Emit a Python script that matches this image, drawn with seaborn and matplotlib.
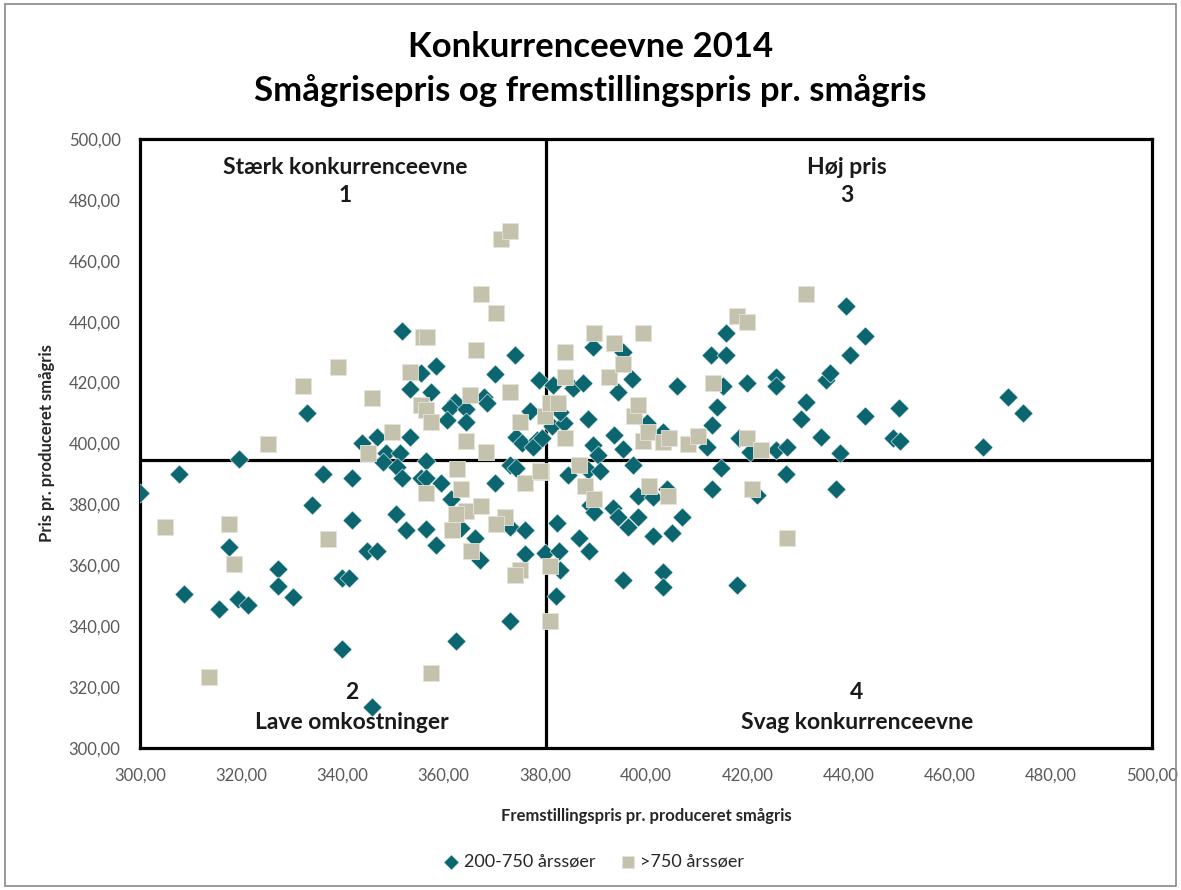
#!/usr/bin/env python3
import matplotlib
matplotlib.use("Agg")
import matplotlib.pyplot as plt
import pandas as pd
import seaborn as sns
from matplotlib.patches import Rectangle
from matplotlib.ticker import FuncFormatter, MultipleLocator

# fremstillingspris (x) og smågrisepris (y), 200-750 årssøer
small_x = [
    300.0, 307.8, 308.8, 315.6, 317.6, 319.5, 319.4, 321.4, 327.3, 327.3,
    330.2, 333.1, 334.0, 336.1, 340.0, 340.0, 341.3, 342.0, 342.0, 343.8,
    344.8, 346.8, 345.9, 346.8, 348.7, 351.4, 348.1, 350.7, 351.7, 350.6,
    352.6, 351.7, 353.4, 353.3, 355.6, 358.5, 357.5, 356.5, 355.6, 356.6,
    359.5, 361.4, 356.5, 358.5, 362.5, 362.3, 361.3, 360.6, 364.4, 364.4,
    363.5, 366.3, 367.2, 368.0, 368.5, 370.2, 370.2, 374.1, 373.1, 376.1,
    376.1, 380.0, 373.1, 373.1, 374.4, 377.1, 378.9, 381.7, 374.4, 375.4,
    378.4, 377.7, 379.4, 381.4, 383.7, 383.0, 382.5, 382.3, 383.1, 382.9,
    384.6, 385.6, 387.6, 386.8, 388.6, 388.6, 388.9, 389.7, 388.8, 389.6,
    389.6, 390.6, 390.9, 393.7, 393.5, 394.5, 394.5, 395.5, 395.5, 395.5,
    396.5, 397.3, 397.5, 398.5, 398.5, 400.1, 401.3, 401.3, 403.3, 403.3,
    403.3, 405.2, 406.2, 407.2, 404.1, 412.0, 413.0, 412.9, 415.9, 415.9,
    414.1, 413.1, 415.3, 414.9, 417.9, 418.3, 419.9, 420.6, 421.9, 425.7,
    425.7, 425.7, 427.8, 427.7, 430.6, 431.6, 434.5, 435.5, 436.4, 437.5,
    438.4, 439.5, 440.4, 443.3, 443.3, 448.9, 450.2, 450.0, 466.6, 471.5,
    474.4,
]
small_y = [
    383.6, 389.9, 350.6, 345.6, 365.9, 394.9, 348.9, 346.8, 358.8, 353.3,
    349.7, 410.0, 379.8, 389.9, 332.5, 355.7, 355.7, 388.6, 374.9, 400.1,
    364.8, 364.8, 313.4, 402.1, 396.8, 396.8, 394.0, 392.4, 388.7, 377.0,
    371.6, 437.0, 402.0, 418.0, 423.1, 425.3, 417.0, 394.4, 388.6, 388.6,
    387.0, 381.7, 371.8, 366.7, 335.0, 413.7, 411.6, 407.8, 411.3, 406.9,
    372.2, 369.1, 361.7, 415.4, 413.2, 422.9, 387.0, 429.1, 372.5, 371.6,
    363.7, 363.9, 341.6, 392.9, 391.9, 410.6, 420.9, 419.2, 402.2, 400.1,
    401.1, 399.0, 401.7, 405.6, 406.7, 410.5, 373.8, 349.9, 358.5, 364.8,
    389.7, 418.2, 420.0, 368.9, 408.0, 391.3, 379.8, 377.6, 364.8, 431.8,
    399.5, 396.2, 390.8, 402.8, 378.8, 376.0, 417.0, 430.2, 398.1, 355.0,
    372.7, 421.1, 393.0, 376.0, 382.6, 406.7, 382.3, 369.6, 403.9, 357.9,
    352.8, 370.7, 418.9, 376.0, 385.0, 399.0, 385.0, 429.1, 429.1, 436.2,
    411.9, 406.1, 418.9, 391.9, 353.5, 401.7, 420.0, 397.3, 383.1, 421.9,
    418.9, 397.9, 399.0, 390.0, 408.0, 413.7, 402.0, 420.9, 423.0, 385.0,
    397.0, 445.3, 429.1, 435.3, 409.0, 401.7, 400.9, 411.5, 399.0, 415.2,
    410.0,
]

# >750 årssøer
large_x = [
    304.9, 313.7, 317.6, 318.6, 325.4, 332.3, 337.2, 339.1, 345.0, 345.9,
    349.8, 353.3, 356.0, 356.8, 355.6, 356.6, 357.6, 356.6, 357.6, 362.6,
    363.4, 364.5, 362.5, 361.6, 364.4, 365.3, 366.4, 367.3, 367.3, 365.4,
    368.4, 370.3, 371.3, 373.1, 372.2, 370.3, 373.1, 375.1, 375.1, 374.2,
    376.1, 379.2, 380.0, 381.0, 382.6, 381.0, 381.0, 379.0, 384.0, 384.0,
    384.0, 386.8, 388.0, 389.8, 389.8, 392.7, 393.7, 395.5, 397.6, 398.5,
    399.4, 399.4, 400.4, 403.4, 404.6, 400.5, 404.4, 408.3, 410.2, 413.2,
    418.0, 419.9, 419.9, 422.8, 420.9, 427.8, 431.7,
]
large_y = [
    372.5, 323.3, 373.5, 360.4, 399.8, 418.9, 368.6, 425.0, 396.8, 415.1,
    403.7, 423.6, 435.1, 435.1, 412.6, 411.0, 407.2, 383.7, 324.5, 391.6,
    385.0, 377.8, 376.8, 371.6, 400.8, 416.0, 430.7, 449.0, 379.6, 364.8,
    397.3, 442.8, 467.1, 469.9, 375.8, 373.5, 417.0, 407.0, 358.5, 356.8,
    387.0, 390.6, 408.9, 413.2, 413.2, 359.6, 341.6, 390.8, 430.0, 421.8,
    401.7, 392.9, 385.9, 381.7, 436.2, 421.8, 432.9, 426.1, 408.9, 412.7,
    436.2, 400.8, 403.9, 400.6, 401.7, 385.9, 382.6, 399.8, 402.6, 419.8,
    441.9, 440.0, 401.7, 397.9, 385.0, 368.9, 449.0,
]

group_labels = ["200-750 årssøer", ">750 årssøer"]
avg_cost = 380.2
avg_price = 394.6

quadrants = [
    ("Stærk konkurrenceevne", "1", 340.5, 490.8, 481.3),
    ("Høj pris", "3", 439.7, 490.8, 481.3),
    ("Lave omkostninger", "2", 341.9, 308.3, 318.2),
    ("Svag konkurrenceevne", "4", 441.7, 308.3, 318.2),
]

TEAL = "#0B6670"
BEIGE = "#C4C2AD"

sns.set_theme(style="white")
plt.rcParams["font.family"] = ["Lato", "DejaVu Sans"]

small = pd.DataFrame({"cost": small_x, "price": small_y})
large = pd.DataFrame({"cost": large_x, "price": large_y})

fig = plt.figure(figsize=(11.81, 8.90), dpi=100)
ax = fig.add_axes([0.1185, 0.1596, 0.857, 0.6842])

sns.scatterplot(data=small, x="cost", y="price", marker="D", s=95, color=TEAL,
                edgecolor="white", linewidth=0.4, label=group_labels[0], ax=ax, zorder=3)
sns.scatterplot(data=large, x="cost", y="price", marker="s", s=135, color=BEIGE,
                edgecolor="#E4E3D8", linewidth=0.6, label=group_labels[1], ax=ax, zorder=4)

ax.axvline(avg_cost, color="black", linewidth=2.3, zorder=2)
ax.axhline(avg_price, color="black", linewidth=2.3, zorder=2)

ax.set_xlim(300, 500)
ax.set_ylim(300, 500)
ax.xaxis.set_major_locator(MultipleLocator(20))
ax.yaxis.set_major_locator(MultipleLocator(20))
fmt = FuncFormatter(lambda v, _: f"{v:.2f}".replace(".", ","))
ax.xaxis.set_major_formatter(fmt)
ax.yaxis.set_major_formatter(fmt)
ax.tick_params(axis="both", length=0, labelsize=12, colors="#595959")
ax.tick_params(axis="x", pad=14)
ax.tick_params(axis="y", pad=14)

for spine in ax.spines.values():
    spine.set_visible(True)
    spine.set_color("black")
    spine.set_linewidth(2.3)

ax.set_xlabel("Fremstillingspris pr. produceret smågris", fontsize=12,
              fontweight="bold", color="#262626", labelpad=18)
ax.set_ylabel("Pris pr. produceret smågris", fontsize=12,
              fontweight="bold", color="#262626", labelpad=10)

for name, num, qx, name_y, num_y in quadrants:
    ax.text(qx, name_y, name, ha="center", va="center", fontsize=16.5,
            fontweight="bold", color="#1a1a1a")
    ax.text(qx, num_y, num, ha="center", va="center", fontsize=16.5,
            fontweight="bold", color="#1a1a1a")

fig.text(0.5, 0.947, "Konkurrenceevne 2014", ha="center", va="center",
         fontsize=25, fontweight="bold", color="black")
fig.text(0.5, 0.898, "Smågrisepris og fremstillingspris pr. smågris",
         ha="center", va="center", fontsize=25, fontweight="bold", color="black")

handles, labels = ax.get_legend_handles_labels()
ax.legend(handles, labels, loc="center", bbox_to_anchor=(0.5, 0.032),
          bbox_transform=fig.transFigure, ncol=2, frameon=False, fontsize=13,
          handletextpad=-0.1, handlelength=1.6, columnspacing=1.0, markerscale=0.8)

fig.patches.append(Rectangle((0.004, 0.004), 0.992, 0.992, transform=fig.transFigure,
                             fill=False, edgecolor="#898989", linewidth=1.2))

fig.savefig("out.png", dpi=100)
